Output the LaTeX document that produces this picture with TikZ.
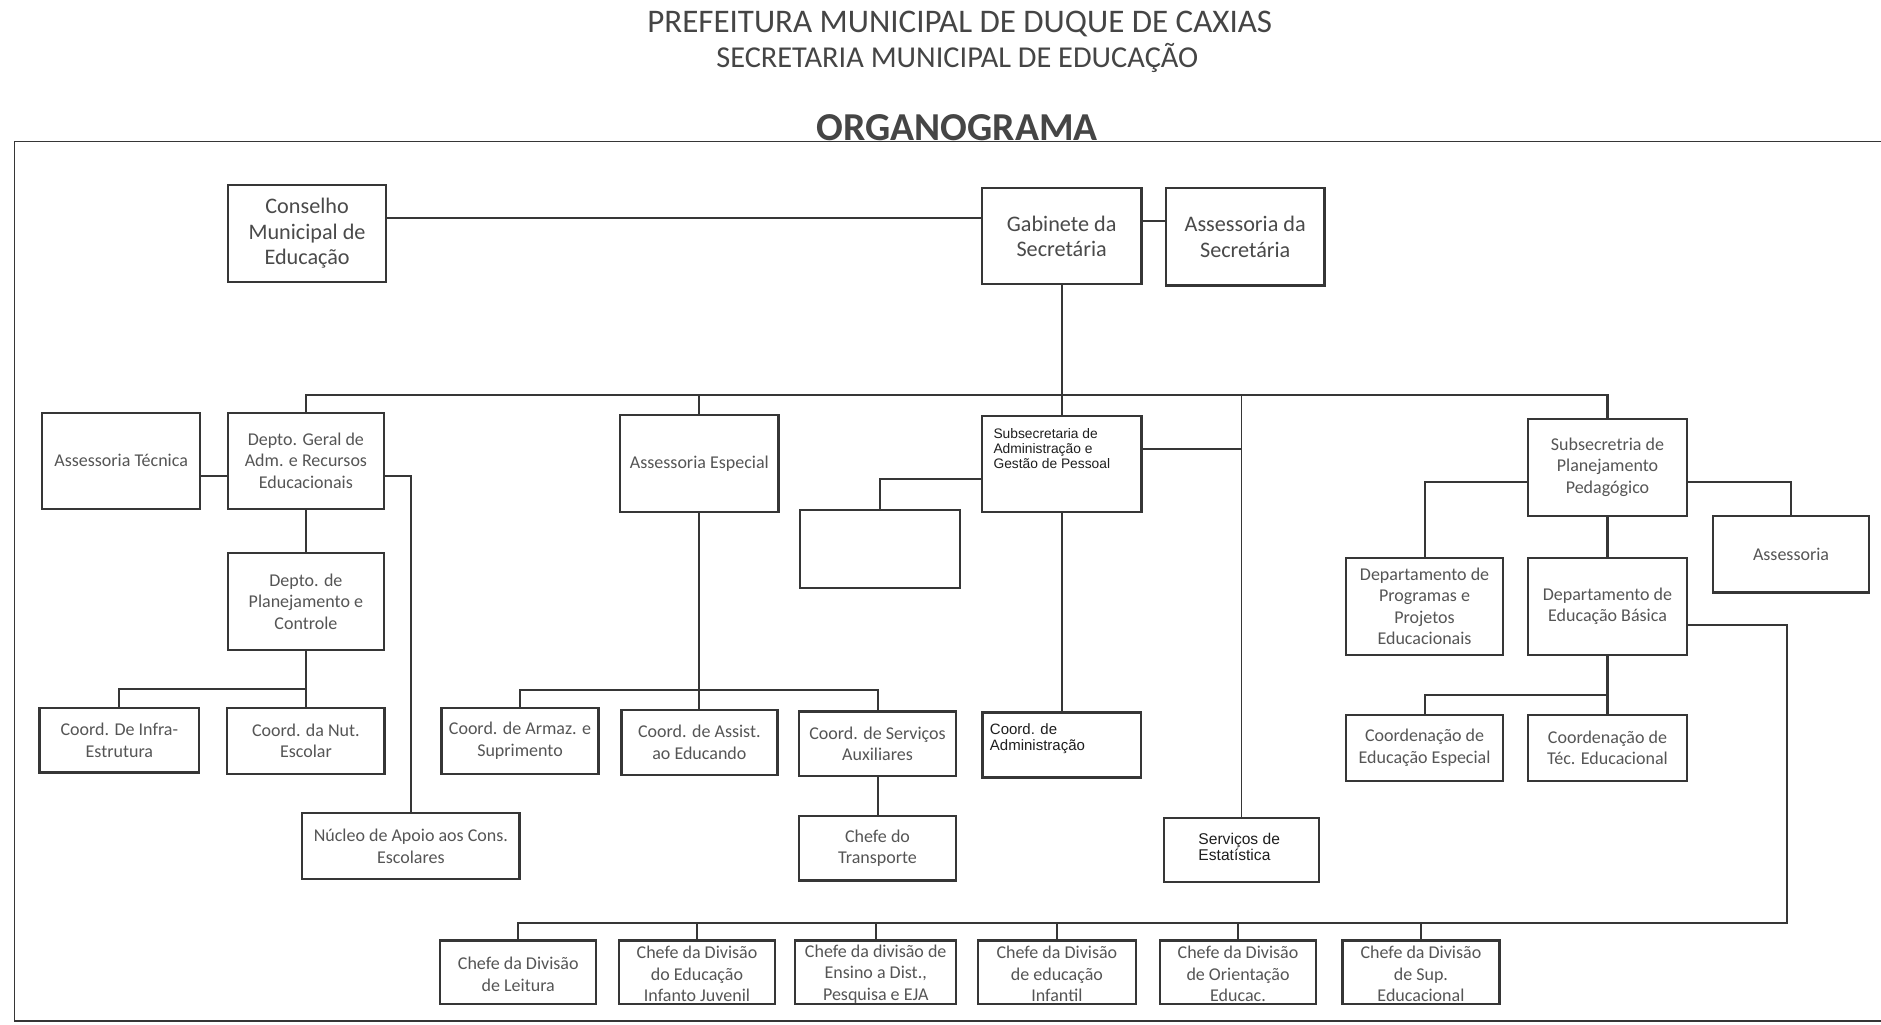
\documentclass[tikz,border=0pt]{standalone}
\usepackage{fontspec}
\setmainfont{Carlito}
\newfontfamily\arialf{Liberation Sans}
\definecolor{boxcol}{HTML}{363636}
\definecolor{txtcol}{HTML}{555555}
\definecolor{topcol}{HTML}{4A4A4A}
\definecolor{darkcol}{HTML}{1E1E1E}
\definecolor{titcol}{HTML}{454545}
% box with its centre and size in picture units
\newcommand\obox[5]{\node[bx,minimum width=#4pt,minimum height=#5pt] (#1) at (#2,#3) {};}
\begin{document}
\begin{tikzpicture}[x=1pt,y=-1pt,
  bx/.style={draw=boxcol,line width=1.9pt,rectangle,inner sep=0pt,fill=white},
  con/.style={draw=boxcol,line width=1.7pt},
  thincon/.style={draw=boxcol,line width=0.9pt},
  lbl/.style={align=center,text=txtcol,inner sep=0pt},
  big/.style={font=\fontsize{18.5}{21.5}\selectfont,text=topcol},
  mid/.style={font=\fontsize{15}{18}\selectfont},
  ari/.style={align=left,text=darkcol,inner sep=0pt}]
\useasboundingbox (0,0) rectangle (1568,854.4);

% headings
\node[text=titcol,font=\fontsize{27.5}{30}\selectfont] (t1) at (800,20) {PREFEITURA MUNICIPAL DE DUQUE DE CAXIAS};
\node[text=titcol,font=\fontsize{25.3}{28}\selectfont] (t2) at (798,48) {SECRETARIA MUNICIPAL DE EDUCAÇÃO};
\node[text=titcol,font=\fontsize{33}{36}\selectfont\bfseries] (t3) at (798,106) {ORGANOGRAMA};

% frame
\draw[boxcol,line width=1.3pt] (1568,118) -- (12,118) -- (12,851) -- (1568,851);

% ---------- boxes ----------
\obox{cons}{256}{194.5}{132}{81}
\obox{gab}{885}{197}{133}{80}
\obox{asec}{1038}{197.5}{132}{81}
\obox{atec}{101}{384}{132}{80}
\obox{dgeral}{255}{384}{130}{80}
\obox{aesp}{583}{386.5}{132}{81}
\obox{subadm}{885}{387}{133}{80}
\obox{subplan}{1340}{389.5}{132}{81}
\obox{empty}{733.5}{457.5}{133}{65}
\obox{assess}{1493}{462}{130}{64}
\obox{dplan}{255}{501.5}{130}{81}
\obox{dprog}{1187.5}{505.5}{131}{81}
\obox{dbasica}{1340}{505.5}{133}{81}
\obox{infra}{99.5}{617}{133}{54}
\obox{nut}{255}{617.5}{131}{55}
\obox{armaz}{433.5}{617.5}{131}{55}
\obox{assist}{583}{619}{130}{54}
\obox{serv}{731.5}{620}{131}{54}
\obox{coordadm}{885}{621}{132}{54}
\obox{cesp}{1187.5}{623.5}{131}{55}
\obox{ctec}{1340}{623.5}{132}{55}
\obox{nucleo}{342.5}{705.5}{181}{55}
\obox{transp}{731.5}{707}{131}{54}
\obox{estat}{1035}{708.5}{129}{53}
\obox{leit}{432}{810.5}{130}{53}
\obox{einf}{581}{810.5}{130}{53}
\obox{edist}{730}{810.5}{134}{53}
\obox{einfantil}{881}{810.5}{132}{53}
\obox{orient}{1032}{810.5}{130}{53}
\obox{sup}{1184.5}{810.5}{131}{53}

% ---------- labels ----------
\node[lbl,big] (cons-t) at (cons) {Conselho\\Municipal de\\Educação};
\node[lbl,big] (gab-t) at (gab) {Gabinete da\\Secretária};
\node[lbl,big] (asec-t) at (asec) {Assessoria da\\Secretária};
\node[lbl,mid] (atec-t) at (atec) {Assessoria Técnica};
\node[lbl,mid] (dgeral-t) at (dgeral) {Depto. Geral de\\Adm. e Recursos\\Educacionais};
\node[lbl,mid] (aesp-t) at (aesp) {Assessoria Especial};
\node[ari,anchor=north west,font=\fontsize{11.5}{12.5}\selectfont\arialf] (subadm-t) at (828,357) {Subsecretaria de\\Administração e\\Gestão de Pessoal};
\node[lbl,mid] (subplan-t) at (subplan) {Subsecretria de\\Planejamento\\Pedagógico};
\node[lbl,mid] (assess-t) at (assess) {Assessoria};
\node[lbl,mid] (dplan-t) at (dplan) {Depto. de\\Planejamento e\\Controle};
\node[lbl,mid] (dprog-t) at (dprog) {Departamento de\\Programas e\\Projetos\\Educacionais};
\node[lbl,mid] (dbasica-t) at (dbasica) {Departamento de\\Educação Básica};
\node[lbl,mid] (infra-t) at (infra) {Coord. De Infra-\\Estrutura};
\node[lbl,mid] (nut-t) at (nut) {Coord. da Nut.\\Escolar};
\node[lbl,mid] (armaz-t) at (armaz) {Coord. de Armaz. e\\Suprimento};
\node[lbl,mid] (assist-t) at (assist) {Coord. de Assist.\\ao Educando};
\node[lbl,mid] (serv-t) at (serv) {Coord. de Serviços\\Auxiliares};
\node[ari,anchor=north west,font=\fontsize{12.5}{13.5}\selectfont\arialf] (coordadm-t) at (825,603) {Coord. de\\Administração};
\node[lbl,mid] (cesp-t) at (cesp) {Coordenação de\\Educação Especial};
\node[lbl,mid] (ctec-t) at (ctec) {Coordenação de\\Téc. Educacional};
\node[lbl,mid] (nucleo-t) at (nucleo) {Núcleo de Apoio aos Cons.\\Escolares};
\node[lbl,mid] (transp-t) at (transp) {Chefe do\\Transporte};
\node[ari,font=\fontsize{13}{14}\selectfont\arialf] (estat-t) at (1033,706) {Serviços de\\Estatística};
\node[lbl,mid] (leit-t) at ([yshift=-1.5pt]leit) {Chefe da Divisão\\de Leitura};
\node[lbl,mid] (einf-t) at ([yshift=-1.5pt]einf) {Chefe da Divisão\\do Educação\\Infanto Juvenil};
\node[lbl,mid] (edist-t) at ([yshift=-1.5pt]edist) {Chefe da divisão de\\Ensino a Dist.,\\Pesquisa e EJA};
\node[lbl,mid] (einfantil-t) at ([yshift=-1.5pt]einfantil) {Chefe da Divisão\\de educação\\Infantil};
\node[lbl,mid] (orient-t) at ([yshift=-1.5pt]orient) {Chefe da Divisão\\de Orientação\\Educac.};
\node[lbl,mid] (sup-t) at ([yshift=-1.5pt]sup) {Chefe da Divisão\\de Sup.\\Educacional};

% ---------- connector levels ----------
\coordinate (yA) at (0,182);
\coordinate (yB) at (0,184);
\coordinate (bus) at (0,329);
\coordinate (yC) at (0,374);
\coordinate (yE) at (0,397);
\coordinate (yD) at (0,399);
\coordinate (yH) at (0,402);
\coordinate (yJ) at (0,521);
\coordinate (yF) at (0,574);
\coordinate (yG) at (0,575);
\coordinate (yI) at (0,579);
\coordinate (yK) at (0,769);
\coordinate (xR) at (1490,0);

% ---------- connectors ----------
\draw[con] (cons.east |- yA) -- (gab.west |- yA);
\draw[con] (gab.east |- yB) -- (asec.west |- yB);
\draw[con] (gab.south) -- (subadm.north);
\draw[con] (dgeral.north) -- (dgeral.north |- bus) -- (subplan.north |- bus) -- (subplan.north);
\draw[con] (aesp.north) -- (aesp.north |- bus);
\draw[thincon] (estat.north |- bus) -- (estat.north);
\draw[con] (subadm.east |- yC) -- (estat.north |- yC);
\draw[con] (subadm.west |- yD) -| (empty.north);
\draw[con] (subadm.south) -- (coordadm.north);
\draw[con] (atec.east |- yE) -- (dgeral.west |- yE);
\draw[con] (dgeral.east |- yE) -| (nucleo.north);
\draw[con] (dgeral.south) -- (dplan.north);
\draw[con] (dplan.south) -- (nut.north);
\draw[con] (infra.north) |- (nut.north |- yF);
\draw[con] (aesp.south) -- (assist.north);
\draw[con] (armaz.north) |- (serv.north |- yG) -- (serv.north);
\draw[con] (serv.south) -- (transp.north);
\draw[con] (subplan.west |- yH) -| (dprog.north);
\draw[con] (subplan.east |- yH) -| (assess.north);
\draw[con] (subplan.south) -- (dbasica.north);
\draw[con] (dbasica.south) -- (ctec.north);
\draw[con] (cesp.north) |- (ctec.north |- yI);
\draw[con] (dbasica.east |- yJ) -- (xR |- yJ) -- (xR |- yK) -- (leit.north |- yK) -- (leit.north);
\foreach \n in {einf,edist,einfantil,orient,sup}
  \draw[con] (\n.north) -- (\n.north |- yK);
\end{tikzpicture}
\end{document}
